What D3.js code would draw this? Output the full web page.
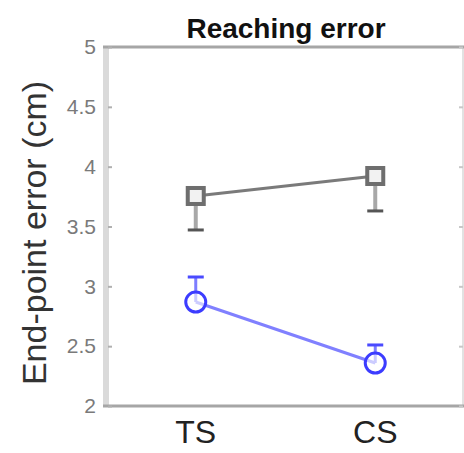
<!DOCTYPE html>
<html>
<head>
<meta charset="utf-8">
<script src="https://cdn.jsdelivr.net/npm/d3@7"></script>
<style>
  html, body { margin: 0; padding: 0; background: #fff; }
  svg { display: block; font-family: "Liberation Sans", Arial, Helvetica, sans-serif; }
</style>
</head>
<body>
<svg id="chart" width="464" height="453"></svg>
<script>
// Conditions on the x axis
const conditions = ["TS", "CS"];

// Group means (cm) and one-sided error bar ends
const grayMeans = [3.755, 3.922];
const grayErrLow = [3.471, 3.630];
const blueMeans = [2.869, 2.359];
const blueErrHigh = [3.078, 2.510];

// Y ticks
const yTicks = [2, 2.5, 3, 3.5, 4, 4.5, 5];
const yTickLabels = ["2", "2.5", "3", "3.5", "4", "4.5", "5"];

const titleText = "Reaching error";
const yLabelText = "End-point error (cm)";

const svg = d3.select("#chart");
const plotLeft = 106, plotRight = 463, plotTop = 47, plotBottom = 406;

const x = d3.scalePoint().domain(conditions).range([plotLeft, plotRight + 2]).padding(0.5);
const y = d3.scaleLinear().domain([2, 5]).range([plotBottom, plotTop]);

// Axes box
svg.append("line").attr("x1", plotLeft).attr("x2", plotLeft).attr("y1", plotTop).attr("y2", plotBottom)
  .attr("stroke", "#dadada").attr("stroke-width", 6);
svg.append("line").attr("x1", plotRight).attr("x2", plotRight).attr("y1", plotTop).attr("y2", plotBottom)
  .attr("stroke", "#e2e2e2").attr("stroke-width", 2);
svg.append("line").attr("x1", plotLeft - 3).attr("x2", plotRight + 2).attr("y1", plotTop).attr("y2", plotTop)
  .attr("stroke", "#a6a6a6").attr("stroke-width", 3);
svg.append("line").attr("x1", plotLeft - 3).attr("x2", plotRight + 2).attr("y1", plotBottom).attr("y2", plotBottom)
  .attr("stroke", "#a6a6a6").attr("stroke-width", 3);

// Left axis ticks and labels
const yAxis = d3.axisLeft(y).tickValues(yTicks)
  .tickFormat((d, i) => yTickLabels[i]).tickSize(-4).tickPadding(12);
const gy = svg.append("g").attr("transform", `translate(${plotLeft + 2},0)`).call(yAxis);
gy.select(".domain").remove();
gy.selectAll(".tick line").attr("stroke", "#b0b0b0").attr("stroke-width", 2);
gy.selectAll(".tick text").attr("fill", "#7a7a7a").attr("font-size", 21)
  .attr("font-family", "'Liberation Sans', Arial, sans-serif");

// Right axis ticks
const gr = svg.append("g").attr("transform", `translate(${plotRight},0)`)
  .call(d3.axisRight(y).tickValues(yTicks).tickFormat("").tickSize(-4));
gr.select(".domain").remove();
gr.selectAll(".tick line").attr("stroke", "#c8c8c8").attr("stroke-width", 2);

// Category labels
svg.append("g").selectAll("text").data(conditions).join("text")
  .attr("x", d => x(d)).attr("y", 443)
  .attr("text-anchor", "middle").attr("font-size", 32).attr("fill", "#222")
  .text(d => d);

// Title
svg.append("text").attr("x", 286).attr("y", 38).attr("text-anchor", "middle")
  .attr("font-size", 28).attr("font-weight", "bold").attr("fill", "#111")
  .text(titleText);

// Y axis label
svg.append("text").attr("transform", `translate(46,233) rotate(-90)`)
  .attr("text-anchor", "middle").attr("font-size", 34).attr("fill", "#333")
  .text(yLabelText);

const capW = 8;

// Gray series: downward error bars
const grayG = svg.append("g");
conditions.forEach((c, i) => {
  grayG.append("line").attr("x1", x(c)).attr("x2", x(c))
    .attr("y1", y(grayMeans[i])).attr("y2", y(grayErrLow[i]))
    .attr("stroke", "#a8a8a8").attr("stroke-width", 4);
  grayG.append("line").attr("x1", x(c) - capW).attr("x2", x(c) + capW)
    .attr("y1", y(grayErrLow[i])).attr("y2", y(grayErrLow[i]))
    .attr("stroke", "#555").attr("stroke-width", 3);
});
grayG.append("path")
  .datum(conditions.map((c, i) => [x(c), y(grayMeans[i])]))
  .attr("d", d3.line()).attr("fill", "none")
  .attr("stroke", "#7a7a7a").attr("stroke-width", 3);
grayG.selectAll("rect").data(conditions).join("rect")
  .attr("x", (c) => x(c) - 8).attr("y", (c, i) => y(grayMeans[i]) - 8)
  .attr("width", 16).attr("height", 16)
  .attr("fill", "#f2f2f2").attr("stroke", "#6e6e6e").attr("stroke-width", 4);

// Blue series: upward error bars
const blueG = svg.append("g");
conditions.forEach((c, i) => {
  blueG.append("line").attr("x1", x(c)).attr("x2", x(c))
    .attr("y1", y(blueMeans[i])).attr("y2", y(blueErrHigh[i]))
    .attr("stroke", "#7d7dff").attr("stroke-width", 3);
  blueG.append("line").attr("x1", x(c) - capW).attr("x2", x(c) + capW)
    .attr("y1", y(blueErrHigh[i])).attr("y2", y(blueErrHigh[i]))
    .attr("stroke", "#4a4aff").attr("stroke-width", 3);
});
blueG.append("path")
  .datum(conditions.map((c, i) => [x(c), y(blueMeans[i])]))
  .attr("d", d3.line()).attr("fill", "none")
  .attr("stroke", "#8080ff").attr("stroke-width", 3);
blueG.selectAll("circle").data(conditions).join("circle")
  .attr("cx", c => x(c)).attr("cy", (c, i) => y(blueMeans[i])).attr("r", 10)
  .attr("fill", "#fff").attr("fill-opacity", 0.6)
  .attr("stroke", "#3c3cff").attr("stroke-width", 3);
</script>
</body>
</html>
